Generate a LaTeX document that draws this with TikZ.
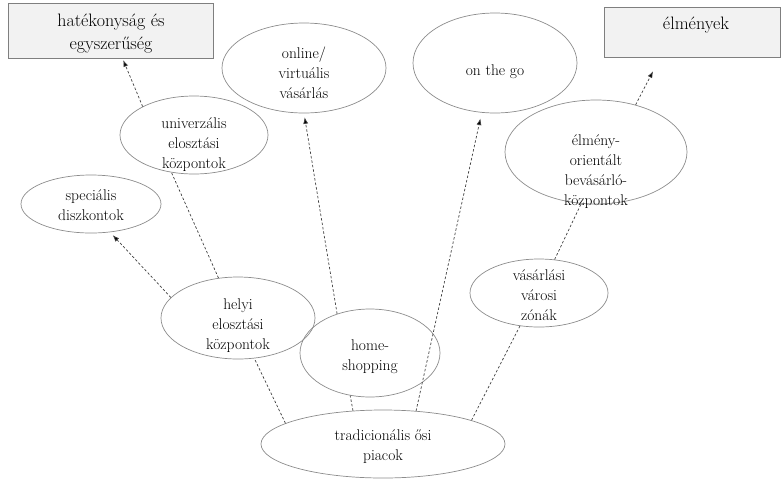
\documentclass[tikz,border=0pt]{standalone}
\usetikzlibrary{arrows.meta,shapes}

\definecolor{bubgray}{HTML}{8C8C8C}
\definecolor{boxgray}{HTML}{7F7F7F}
\definecolor{boxfill}{HTML}{F2F2F2}
\definecolor{linegray}{HTML}{404040}

\tikzset{
  bub/.style={shape=ellipse,draw=bubgray,line width=0.7pt,inner sep=0pt},
  goal/.style={shape=rectangle,draw=boxgray,fill=boxfill,line width=0.7pt,inner sep=0pt},
  txt/.style={align=center,font=\fontsize{15.5}{20}\selectfont,inner sep=0pt},
  bigtxt/.style={align=center,font=\fontsize{18}{23}\selectfont,inner sep=0pt},
  flow/.style={draw=linegray,line width=0.7pt,dash pattern=on 2.5pt off 2pt}
}

\begin{document}
\begin{tikzpicture}[x=1pt,y=-1pt,>={Latex[length=6.5pt,width=5pt]}]
                \useasboundingbox (0,0) rectangle (781,480);
                % goals
                \node[goal,minimum width=205pt,minimum height=55pt](hatk)at(110.5, 30.5){};
                \node[bigtxt](hatk-t)at(111, 33.5){hatékonyság és\\egyszerűség};
                \node[goal,minimum width=176pt,minimum height=50pt](elm)at(692, 32){};
                \node[bigtxt](elm-t)at(696, 25){élmények};
                % forms
                \node[bub,minimum width=164pt,minimum height=90pt](online)at(304, 68){};
                \node[txt](online-t)at(304, 73){online/\\virtuális\\vásárlás};
                \node[bub,minimum width=164pt,minimum height=100pt](ongo)at(495, 63){};
                \node[txt](ongo-t)at(495, 72){on the go};
                \node[bub,minimum width=148pt,minimum height=78pt](univ)at(194, 135){};
                \node[txt](univ-t)at(194, 145){univerzális\\elosztási\\központok};
                \node[bub,minimum width=140pt,minimum height=58pt](spec)at(91, 204){};
                \node[txt](spec-t)at(91, 205){speciális\\diszkontok};
                \node[bub,minimum width=182pt,minimum height=104pt](elo)at(596, 152){};
                \node[txt](elo-t)at(596, 172){élmény-\\orientált\\bevásárló-\\központok};
                \node[bub,minimum width=154pt,minimum height=82pt](helyi)at(238, 318){};
                \node[txt](helyi-t)at(238, 326){helyi\\elosztási\\központok};
                \node[bub,minimum width=140pt,minimum height=88pt](home)at(370, 353){};
                \node[txt](home-t)at(370, 357){home-\\shopping};
                \node[bub,minimum width=138pt,minimum height=68pt](vas)at(539, 293){};
                \node[txt](vas-t)at(539, 295){vásárlási\\városi\\zónák};
                \node[bub,minimum width=244pt,minimum height=68pt](trad)at(383, 444){};
                \node[txt](trad-t)at(383, 447){tradicionális ősi\\piacok};
                % connectors
                \path[flow](trad.168) edge (helyi.292)
                (helyi.116) edge (univ.239)
                (univ.151) edge[->,shorten >=2pt] ([xshift=12pt]hatk.south)
                (helyi.163) edge[->,shorten >=4pt] (spec.304)
                (trad.132) edge (home.245)
                (home.130) edge[->,shorten >=4pt] (online.south)
                (trad.45) edge[->,shorten >=6pt] (ongo.255)
                (trad.15) edge (vas.240)
                (vas.65) edge (elo.254)
                (elo.50) edge[->] ([xshift=-39pt,yshift=-14pt]elm.south);
            \end{tikzpicture}
\end{document}
